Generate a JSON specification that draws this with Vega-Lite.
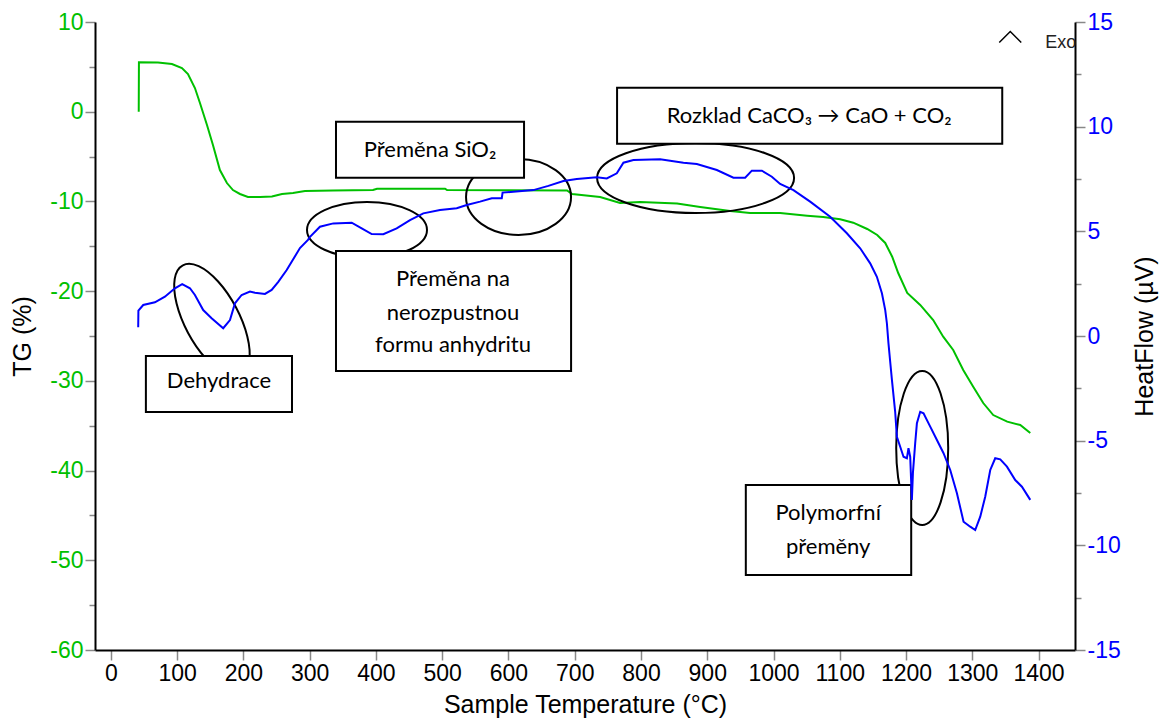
{
  "$schema": "https://vega.github.io/schema/vega-lite/v6.json",
  "width": 980,
  "height": 628,
  "autosize": {"type": "none"},
  "padding": {"left": 95, "top": 22, "right": 88, "bottom": 72},
  "background": "white",
  "config": {
    "view": {"stroke": null},
    "axis": {
      "grid": false,
      "domainColor": "black",
      "domainWidth": 2,
      "tickColor": "#888888",
      "tickWidth": 1.5,
      "labelFont": "Liberation Sans",
      "labelFontSize": 23,
      "labelPadding": 2,
      "labelFlush": false,
      "labelOverlap": false,
      "titleFont": "Liberation Sans",
      "titleFontSize": 25,
      "titleFontWeight": "normal",
      "titleColor": "black"
    }
  },
  "datasets": {
    "tg": [
      {"T": 42.0, "TG": 0.0}, {"T": 42.3, "TG": 5.51}, {"T": 71, "TG": 5.49}, {"T": 92.1, "TG": 5.32},
      {"T": 107.2, "TG": 4.87}, {"T": 116.3, "TG": 4.2}, {"T": 126.8, "TG": 2.64}, {"T": 134.4, "TG": 0.97},
      {"T": 145, "TG": -1.48}, {"T": 154, "TG": -3.71}, {"T": 164.5, "TG": -6.5}, {"T": 175.1, "TG": -7.95},
      {"T": 184.2, "TG": -8.73}, {"T": 194.8, "TG": -9.17}, {"T": 206.8, "TG": -9.51}, {"T": 225, "TG": -9.51},
      {"T": 243, "TG": -9.45}, {"T": 258.2, "TG": -9.17}, {"T": 274.8, "TG": -9.06}, {"T": 292.9, "TG": -8.84},
      {"T": 335.2, "TG": -8.78}, {"T": 395.6, "TG": -8.73}, {"T": 401.6, "TG": -8.58}, {"T": 504.3, "TG": -8.58},
      {"T": 507.3, "TG": -8.73}, {"T": 688.4, "TG": -8.78}, {"T": 696, "TG": -9.17}, {"T": 738.3, "TG": -9.51},
      {"T": 768.5, "TG": -10.18}, {"T": 798.7, "TG": -10.06}, {"T": 854.5, "TG": -10.23}, {"T": 889.3, "TG": -10.62},
      {"T": 934.6, "TG": -11.07}, {"T": 964.7, "TG": -11.29}, {"T": 1010, "TG": -11.29}, {"T": 1050.8, "TG": -11.59},
      {"T": 1075, "TG": -11.74}, {"T": 1100.6, "TG": -11.99}, {"T": 1120.3, "TG": -12.37}, {"T": 1141.4, "TG": -13.07},
      {"T": 1156.5, "TG": -13.74}, {"T": 1168.6, "TG": -14.63}, {"T": 1179.1, "TG": -16.16}, {"T": 1188.2, "TG": -17.98},
      {"T": 1201.8, "TG": -20.21}, {"T": 1221.4, "TG": -21.54}, {"T": 1241, "TG": -23.22}, {"T": 1256.1, "TG": -25.08},
      {"T": 1271.2, "TG": -26.56}, {"T": 1286.3, "TG": -28.79}, {"T": 1301.4, "TG": -30.65}, {"T": 1316.5, "TG": -32.47},
      {"T": 1331.6, "TG": -33.81}, {"T": 1352.7, "TG": -34.55}, {"T": 1372.4, "TG": -34.92}, {"T": 1387.5, "TG": -35.81}
    ],
    "hf": [
      {"T": 41.2, "HF": 0.42}, {"T": 41.5, "HF": 1.21}, {"T": 48.8, "HF": 1.48}, {"T": 66.4, "HF": 1.61},
      {"T": 81.5, "HF": 1.88}, {"T": 96.6, "HF": 2.28}, {"T": 107.6, "HF": 2.48}, {"T": 119.3, "HF": 2.28},
      {"T": 126.8, "HF": 1.96}, {"T": 139.3, "HF": 1.24}, {"T": 152, "HF": 0.85}, {"T": 169.5, "HF": 0.37},
      {"T": 179.7, "HF": 0.76}, {"T": 187.2, "HF": 1.56}, {"T": 197.3, "HF": 1.96}, {"T": 209.9, "HF": 2.12},
      {"T": 217.4, "HF": 2.07}, {"T": 232.5, "HF": 2.01}, {"T": 242.6, "HF": 2.2}, {"T": 252.6, "HF": 2.59},
      {"T": 265.3, "HF": 3.15}, {"T": 285.3, "HF": 4.2}, {"T": 297.4, "HF": 4.59}, {"T": 300.5, "HF": 4.74},
      {"T": 315.5, "HF": 5.22}, {"T": 335.6, "HF": 5.38}, {"T": 363.4, "HF": 5.41}, {"T": 378.5, "HF": 5.14},
      {"T": 393.6, "HF": 4.87}, {"T": 411.1, "HF": 4.86}, {"T": 431.3, "HF": 5.14}, {"T": 451.4, "HF": 5.54},
      {"T": 471.5, "HF": 5.86}, {"T": 496.7, "HF": 6.02}, {"T": 521.9, "HF": 6.1}, {"T": 537, "HF": 6.26},
      {"T": 557.1, "HF": 6.42}, {"T": 574.8, "HF": 6.58}, {"T": 589.9, "HF": 6.58}, {"T": 591.1, "HF": 6.85},
      {"T": 607.4, "HF": 6.89}, {"T": 637.6, "HF": 6.97}, {"T": 660.2, "HF": 7.17}, {"T": 682.9, "HF": 7.4},
      {"T": 703.1, "HF": 7.5}, {"T": 733.3, "HF": 7.58}, {"T": 748.4, "HF": 7.53}, {"T": 763.5, "HF": 7.77},
      {"T": 773.5, "HF": 8.28}, {"T": 788.6, "HF": 8.41}, {"T": 828.9, "HF": 8.44}, {"T": 864.1, "HF": 8.28},
      {"T": 884.3, "HF": 8.22}, {"T": 914.5, "HF": 7.93}, {"T": 939.5, "HF": 7.56}, {"T": 957.2, "HF": 7.56},
      {"T": 967.3, "HF": 7.9}, {"T": 982.4, "HF": 7.9}, {"T": 997.5, "HF": 7.61}, {"T": 1010, "HF": 7.26},
      {"T": 1030.1, "HF": 6.97}, {"T": 1055.3, "HF": 6.42}, {"T": 1085.5, "HF": 5.7}, {"T": 1110.7, "HF": 4.91},
      {"T": 1130.8, "HF": 4.19}, {"T": 1145.9, "HF": 3.47}, {"T": 1156, "HF": 2.83}, {"T": 1163.6, "HF": 2.04},
      {"T": 1168.6, "HF": 1.24}, {"T": 1171.1, "HF": 0.61}, {"T": 1173.5, "HF": -0.35}, {"T": 1176.1, "HF": -1.23},
      {"T": 1178.7, "HF": -2.1}, {"T": 1183.6, "HF": -3.62}, {"T": 1186.2, "HF": -4.81}, {"T": 1191.2, "HF": -5.29},
      {"T": 1196.2, "HF": -5.77}, {"T": 1201.3, "HF": -5.84}, {"T": 1203.7, "HF": -5.36}, {"T": 1206.3, "HF": -5.77},
      {"T": 1208.8, "HF": -7.83}, {"T": 1210.4, "HF": -6.54}, {"T": 1213.8, "HF": -5.13}, {"T": 1216.4, "HF": -4.17},
      {"T": 1221.4, "HF": -3.62}, {"T": 1226.4, "HF": -3.69}, {"T": 1236.5, "HF": -4.33}, {"T": 1246.6, "HF": -4.97},
      {"T": 1256.6, "HF": -5.6}, {"T": 1266.7, "HF": -6.4}, {"T": 1276.8, "HF": -7.51}, {"T": 1286.8, "HF": -8.87},
      {"T": 1296.9, "HF": -9.11}, {"T": 1304.4, "HF": -9.27}, {"T": 1312, "HF": -8.63}, {"T": 1319.5, "HF": -7.68},
      {"T": 1327.1, "HF": -6.4}, {"T": 1334.6, "HF": -5.84}, {"T": 1342.2, "HF": -5.89}, {"T": 1352.3, "HF": -6.24},
      {"T": 1364.8, "HF": -6.88}, {"T": 1374.9, "HF": -7.2}, {"T": 1387.5, "HF": -7.83}
    ],
    "ellipses": [
      {"id": "dehydrace", "x": 152.5, "y": -23.22},
      {"id": "anhydrit", "x": 386.5, "y": -13.18},
      {"id": "sio2", "x": 615.2, "y": -9.51},
      {"id": "caco3", "x": 882.4, "y": -7.39},
      {"id": "polymorf", "x": 1224.4, "y": -37.48}
    ],
    "boxes": [
      {"id": "dehydrace", "x1": 52.8, "x2": 273.3, "y1": -27.23, "y2": -33.47},
      {"id": "anhydrit", "x1": 339.7, "x2": 694.5, "y1": -15.53, "y2": -28.9},
      {"id": "sio2", "x1": 339.7, "x2": 623.5, "y1": -1.11, "y2": -7.36},
      {"id": "caco3", "x1": 763.9, "x2": 1345.2, "y1": 2.68, "y2": -3.57},
      {"id": "polymorf", "x1": 958.2, "x2": 1207.8, "y1": -41.61, "y2": -51.64}
    ],
    "notes": [
      {"label": "Dehydrace", "x": 163.1, "y": -30.02},
      {"label": "Přeměna na", "x": 516.3, "y": -18.65},
      {"label": "nerozpustnou", "x": 516.3, "y": -22.44},
      {"label": "formu anhydritu", "x": 516.3, "y": -26.0},
      {"label": "Přeměna SiO₂", "x": 481.6, "y": -4.27},
      {"label": "Rozklad CaCO₃ → CaO + CO₂", "x": 1053.8, "y": -0.48},
      {"label": "Polymorfní", "x": 1082.5, "y": -44.73},
      {"label": "přeměny", "x": 1082.5, "y": -48.52}
    ]
  },
  "layer": [
    {
      "layer": [
        {
          "data": {"name": "tg"},
          "mark": {"type": "line", "color": "#00c000", "strokeWidth": 2},
          "encoding": {
            "x": {
              "field": "T", "type": "quantitative",
              "scale": {"domain": [-24, 1455], "nice": false, "zero": false},
              "axis": {
                "title": "Sample Temperature (°C)",
                "values": [0, 50, 100, 150, 200, 250, 300, 350, 400, 450, 500, 550, 600, 650, 700, 750, 800, 850, 900, 950, 1000, 1050, 1100, 1150, 1200, 1250, 1300, 1350, 1400],
                "labelExpr": "datum.value % 100 === 0 ? '' + datum.value : ''",
                "tickSize": {"condition": {"test": "datum.value % 100 === 0", "value": 10}, "value": 6},
                "labelColor": "black",
                "titlePadding": 7
              }
            },
            "y": {
              "field": "TG", "type": "quantitative",
              "scale": {"domain": [-60, 10], "nice": false, "zero": false},
              "axis": {
                "title": "TG (%)",
                "orient": "left",
                "values": [-60, -55, -50, -45, -40, -35, -30, -25, -20, -15, -10, -5, 0, 5, 10],
                "labelExpr": "datum.value % 10 === 0 ? '' + datum.value : ''",
                "tickSize": {"condition": {"test": "datum.value % 10 === 0", "value": 10}, "value": 6},
                "labelColor": "#00c000",
                "titlePadding": 14
              }
            }
          }
        },
        {
          "data": {"name": "ellipses"},
          "mark": {"type": "point", "filled": false, "stroke": "black", "strokeWidth": 2, "size": 40000, "opacity": 1},
          "encoding": {
            "x": {"field": "x", "type": "quantitative"},
            "y": {"field": "y", "type": "quantitative"},
            "shape": {
              "field": "id", "type": "nominal", "legend": null,
              "scale": {
                "domain": ["dehydrace", "anhydrit", "sio2", "caco3", "polymorf"],
                "range": [
                  "M 0.2911 0.5474 A 0.62 0.27 62 1 0 -0.2911 -0.5474 A 0.62 0.27 62 1 0 0.2911 0.5474 Z",
                  "M -0.6 0 A 0.6 0.28 0 1 0 0.6 0 A 0.6 0.28 0 1 0 -0.6 0 Z",
                  "M -0.525 0 A 0.525 0.38 0 1 0 0.525 0 A 0.525 0.38 0 1 0 -0.525 0 Z",
                  "M -0.985 0 A 0.985 0.35 0 1 0 0.985 0 A 0.985 0.35 0 1 0 -0.985 0 Z",
                  "M -0.26 0 A 0.26 0.77 0 1 0 0.26 0 A 0.26 0.77 0 1 0 -0.26 0 Z"
                ]
              }
            }
          }
        },
        {
          "data": {"name": "boxes"},
          "mark": {"type": "rect", "fill": "white", "stroke": "black", "strokeWidth": 2},
          "encoding": {
            "x": {"field": "x1", "type": "quantitative"},
            "x2": {"field": "x2"},
            "y": {"field": "y1", "type": "quantitative"},
            "y2": {"field": "y2"}
          }
        },
        {
          "data": {"name": "notes"},
          "mark": {"type": "text", "font": "Lato", "fontSize": 22, "color": "black", "align": "center", "baseline": "middle"},
          "encoding": {
            "x": {"field": "x", "type": "quantitative"},
            "y": {"field": "y", "type": "quantitative"},
            "text": {"field": "label"}
          }
        },
        {
          "data": {"values": [{"x": 1357.3, "y": 8.33}]},
          "mark": {"type": "point", "filled": false, "stroke": "black", "strokeWidth": 1.5, "size": 40000, "opacity": 1, "shape": "M -0.11 0.055 L 0 -0.055 L 0.11 0.055"},
          "encoding": {
            "x": {"field": "x", "type": "quantitative"},
            "y": {"field": "y", "type": "quantitative"}
          }
        },
        {
          "data": {"values": [{"x": 1410.1, "y": 7.14, "label": "Exo"}]},
          "mark": {"type": "text", "font": "Liberation Sans", "fontSize": 18, "color": "#222222", "align": "left", "baseline": "alphabetic"},
          "encoding": {
            "x": {"field": "x", "type": "quantitative"},
            "y": {"field": "y", "type": "quantitative"},
            "text": {"field": "label"}
          }
        }
      ]
    },
    {
      "data": {"name": "hf"},
      "mark": {"type": "line", "color": "#0000ff", "strokeWidth": 2},
      "encoding": {
        "x": {"field": "T", "type": "quantitative"},
        "y": {
          "field": "HF", "type": "quantitative",
          "scale": {"domain": [-15, 15], "nice": false, "zero": false},
          "axis": {
            "title": "HeatFlow (µV)",
            "orient": "right",
            "titleAngle": 270,
            "titleBaseline": "bottom",
            "values": [-15, -12.5, -10, -7.5, -5, -2.5, 0, 2.5, 5, 7.5, 10, 12.5, 15],
            "labelExpr": "datum.value % 5 === 0 ? '' + datum.value : ''",
            "tickSize": {"condition": {"test": "datum.value % 5 === 0", "value": 10}, "value": 6},
            "labelColor": "#0000ff",
            "titlePadding": 37
          }
        }
      }
    }
  ],
  "resolve": {"scale": {"y": "independent"}}
}
